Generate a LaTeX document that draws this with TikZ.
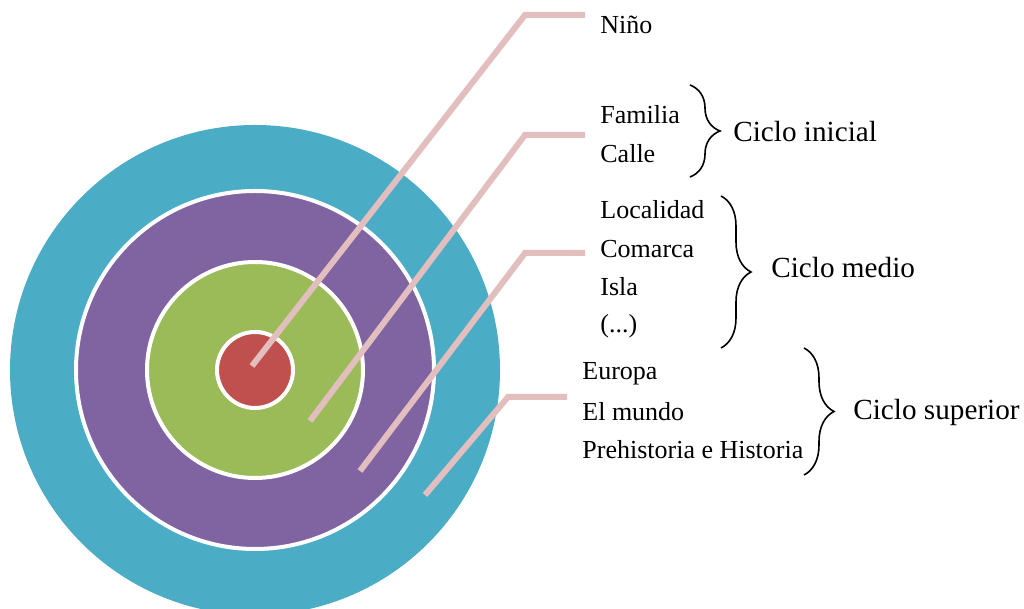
\documentclass[tikz,border=0pt]{standalone}
\usepackage{fontspec}
\setmainfont{Liberation Serif}
\usetikzlibrary{decorations.pathreplacing}
\definecolor{ringteal}{HTML}{4BACC6}
\definecolor{ringpurple}{HTML}{8064A2}
\definecolor{ringgreen}{HTML}{9BBB59}
\definecolor{ringred}{HTML}{C0504D}
\definecolor{leaderpink}{HTML}{E3BEBE}
\begin{document}
\begin{tikzpicture}[x=0.5pt, y=0.5pt,
ring/.style={draw=white, line width=2pt},
leader/.style={draw=leaderpink, line width=3pt},
item/.style={anchor=west, inner sep=0pt, font=\fontsize{13}{15}\selectfont},
cycle/.style={anchor=west, inner sep=0pt, font=\fontsize{14.6}{17}\selectfont},
bracel/.style={decorate, decoration={brace, amplitude=15pt}, thick}]
\useasboundingbox (0,0) rectangle (1024,609);
\clip (0,0) rectangle (1024,609);
% rings
\coordinate (c) at (255,239);
\fill[ringteal] (c) circle (245);
\filldraw[ring, fill=ringpurple] (c) circle (179);
\filldraw[ring, fill=ringgreen] (c) circle (108);
\filldraw[ring, fill=ringred] (c) circle (38);
% labels
\node[item] (nino) at (600,584) {Niño};
\node[item] (familia) at (600,494) {Familia};
\node[item] (calle) at (600,455) {Calle};
\node[item] (localidad) at (600,399) {Localidad};
\node[item] (comarca) at (600,360) {Comarca};
\node[item] (isla) at (600,322) {Isla};
\node[item] (etc) at (600,283) {(...)};
\node[item] (europa) at (582,235) {Europa};
\node[item] (mundo) at (582,197) {El mundo};
\node[item] (historia) at (582,159) {Prehistoria e Historia};
% leaders
\coordinate (s1) at (252,243);
\coordinate (s2) at (310,188);
\coordinate (s3) at (360,138);
\coordinate (s4) at (425,114);
\coordinate (e1) at (585,594);
\coordinate (e2) at (585,474);
\coordinate (e3) at (585,356);
\coordinate (e4) at (567,212);
\draw[leader] (s1) -- (525,594) -- (e1);
\draw[leader] (s2) -- (525,474) -- (e2);
\draw[leader] (s3) -- (525,356) -- (e3);
\draw[leader] (s4) -- (508,212) -- (e4);
% cycles
\coordinate (b1) at (690,524);
\coordinate (b2) at (690,432);
\coordinate (b3) at (721,413);
\coordinate (b4) at (721,261);
\coordinate (b5) at (804,261);
\coordinate (b6) at (804,134);
\draw[bracel] (b1) -- (b2);
\draw[bracel] (b3) -- (b4);
\draw[bracel] (b5) -- (b6);
\node[cycle] (inicial) at (733,477) {Ciclo inicial};
\node[cycle] (medio) at (771,341) {Ciclo medio};
\node[cycle] (superior) at (853,197) {Ciclo superior};
\end{tikzpicture}
\end{document}
